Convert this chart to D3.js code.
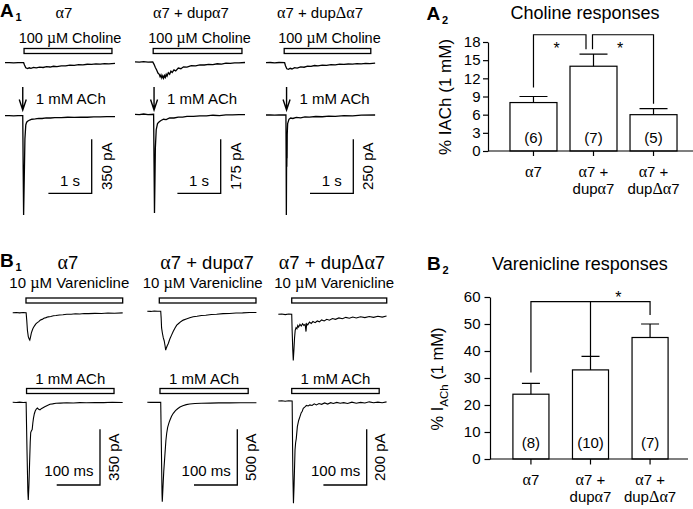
<!DOCTYPE html>
<html><head><meta charset="utf-8">
<script src="https://cdn.jsdelivr.net/npm/d3@7"></script>
<style>
body{margin:0;background:#fff;}
svg text{font-family:"Liberation Sans",Arial,sans-serif;fill:#000;}
</style></head><body>
<script>
// ---------------- DATA ----------------
const groups = ["α7", "α7 + dupα7", "α7 + dupΔα7"];
const groupLabelLines = [["α7"], ["α7 +", "dupα7"], ["α7 +", "dupΔα7"]];

// A2 choline responses (% of 1 mM ACh)
const cholineMean = [8, 14, 6];
const cholineSEM = [1, 2, 1];
const cholineN = ["(6)", "(7)", "(5)"];
const cholineTicks = [0, 3, 6, 9, 12, 15, 18];
const cholineBrackets = [
  {from: 0, to: 1, top: 19.2, legs: [10.5, 16.8]},
  {from: 1, to: 2, top: 19.2, legs: [16.8, 7.8]}
];

// B2 varenicline responses
const vareMean = [24, 33, 45];
const vareSEM = [4, 5, 5];
const vareN = ["(8)", "(10)", "(7)"];
const vareTicks = [0, 10, 20, 30, 40, 50, 60];
const vareBracket = {top: 58.3, legs: [32, 38, 53.3]};

// A1 traces: [time (s), current (pA)]
const a1ScalePA = [350, 175, 250];
const a1ScaleS = 1;
const a1CholineWindow = [[0.44, 2.47], [0.42, 2.47], [0.42, 2.42]];
const a1AChOnset = [0.41, 0.44, 0.475];
const a1Choline1 = [[0,0],[0.1,1],[0.2,-1],[0.3,1],[0.43,0],[0.45,-15],[0.48,-33],[0.52,-38],[0.56,-33],[0.6,-37],[0.66,-31],[0.72,-34],[0.8,-29],[0.88,-31],[0.96,-26],[1.04,-28],[1.12,-23],[1.2,-25],[1.3,-20],[1.4,-21],[1.5,-16],[1.6,-17],[1.7,-13],[1.8,-14],[1.9,-10],[2.0,-11],[2.1,-8],[2.2,-9],[2.3,-6],[2.4,-7],[2.54,-4]];
const a1Choline2 = [[0,0],[0.1,-1],[0.2,1],[0.3,-1],[0.41,0],[0.44,-8],[0.47,-18],[0.5,-26],[0.53,-36],[0.56,-40],[0.58,-48],[0.6,-42],[0.62,-52],[0.64,-45],[0.66,-53],[0.68,-44],[0.7,-50],[0.72,-40],[0.74,-46],[0.77,-35],[0.8,-40],[0.83,-30],[0.86,-34],[0.9,-26],[0.94,-29],[1.0,-20],[1.06,-22],[1.12,-16],[1.2,-17],[1.3,-12],[1.4,-13],[1.5,-10],[1.6,-10],[1.7,-8],[1.8,-9],[1.9,-6],[2.0,-7],[2.1,-4],[2.2,-5],[2.3,-3],[2.4,-3],[2.54,-2]];
const a1Choline3 = [[0,0],[0.1,1],[0.2,-1],[0.3,1],[0.43,0],[0.45,-14],[0.48,-28],[0.52,-31],[0.56,-26],[0.6,-29],[0.66,-23],[0.72,-25],[0.8,-19],[0.88,-21],[0.96,-16],[1.04,-17],[1.12,-13],[1.2,-15],[1.3,-11],[1.4,-12],[1.5,-9],[1.6,-10],[1.7,-7],[1.8,-8],[1.9,-6],[2.0,-7],[2.1,-4],[2.2,-5],[2.3,-3],[2.4,-4],[2.52,-2]];
const a1ACh1 = [[0,0],[0.1,1],[0.2,-1],[0.3,1],[0.41,0],[0.42,-350],[0.43,-644],[0.445,-400],[0.46,-150],[0.48,-60],[0.5,-42],[0.53,-34],[0.57,-28],[0.62,-23],[0.7,-21],[0.78,-17],[0.86,-18],[0.95,-14],[1.05,-15],[1.15,-12],[1.3,-13],[1.45,-10],[1.6,-11],[1.75,-9],[1.9,-10],[2.05,-7],[2.2,-8],[2.35,-6],[2.54,-6]];
const a1ACh2 = [[0,0],[0.1,-1],[0.2,1],[0.3,-1],[0.43,0],[0.44,-160],[0.45,-320],[0.46,-220],[0.47,-110],[0.49,-50],[0.52,-30],[0.56,-24],[0.6,-20],[0.66,-16],[0.72,-17],[0.8,-12],[0.9,-12],[1.0,-9],[1.1,-9],[1.2,-7],[1.35,-7],[1.5,-5],[1.65,-5],[1.8,-3],[1.95,-4],[2.1,-2],[2.25,-2],[2.4,-1],[2.54,-1]];
const a1ACh3 = [[0,0],[0.1,1],[0.2,-1],[0.3,1],[0.46,0],[0.465,-200],[0.47,-463],[0.475,-230],[0.478,-170],[0.481,-240],[0.484,-160],[0.487,-200],[0.49,-90],[0.5,-40],[0.53,-20],[0.57,-14],[0.62,-16],[0.7,-11],[0.8,-13],[0.9,-9],[1.0,-10],[1.15,-7],[1.3,-8],[1.45,-5],[1.6,-6],[1.8,-3],[2.0,-4],[2.2,-1],[2.52,0]];

// B1 traces: [time (ms), current (pA)]
const b1ScalePA = [350, 500, 200];
const b1ScaleMs = 100;
const b1VareWindow = [[30.7, 254], [27.7, 251], [31, 250.4]];
const b1AChWindow = [[32, 234], [29.3, 233], [31, 233]];
const b1Vare1 = [[0,0],[8,1],[16,-1],[24,1],[31,0],[32.5,-50],[34,-110],[36,-150],[38,-165],[39.5,-172],[41,-155],[43,-128],[45,-112],[47,-98],[50,-84],[53,-72],[56,-64],[60,-56],[64,-46],[68,-42],[72,-35],[77,-31],[82,-26],[88,-24],[94,-19],[100,-18],[108,-14],[116,-13],[125,-10],[135,-10],[145,-7],[155,-8],[165,-5],[175,-6],[190,-4],[205,-5],[220,-2],[235,-3],[254,-1]];
const b1Vare2 = [[0,0],[8,-2],[16,2],[24,-1],[31,0],[32,-60],[33,-150],[35,-200],[37,-240],[39,-265],[41,-310],[42.5,-350],[44,-330],[46,-310],[48.5,-290],[52,-250],[56,-215],[60,-180],[64,-150],[68,-125],[73,-108],[78,-92],[83,-80],[90,-70],[98,-58],[106,-50],[115,-45],[125,-38],[135,-36],[148,-30],[160,-28],[175,-22],[190,-21],[205,-16],[220,-15],[236,-12],[252,-11]];
const b1Vare3 = [[0,0],[8,1],[16,-1],[24,1],[31,0],[32,-60],[33.5,-130],[34.6,-166],[36,-130],[37.5,-85],[39,-58],[41,-48],[43,-52],[45,-40],[47,-46],[50,-36],[53,-42],[56,-34],[59,-40],[62,-36],[64,-62],[65.5,-34],[68,-38],[72,-28],[76,-33],[80,-26],[85,-30],[90,-24],[95,-27],[100,-20],[106,-24],[112,-18],[118,-21],[125,-15],[132,-18],[140,-13],[148,-16],[156,-11],[164,-14],[172,-10],[180,-13],[190,-9],[200,-12],[210,-8],[220,-11],[230,-7],[240,-10],[250,-6]];
const b1ACh1 = [[0,0],[8,-1],[16,1],[24,-1],[31,0],[33,-300],[35,-560],[36,-614],[37.5,-520],[39,-380],[40.5,-250],[41.6,-190],[43,-180],[45,-172],[46.5,-130],[48,-100],[50,-72],[52,-55],[54.5,-42],[57,-36],[60,-44],[63,-48],[66,-40],[70,-34],[74,-28],[80,-20],[86,-12],[92,-10],[100,-6],[110,-5],[125,-3],[140,-4],[155,-2],[170,-3],[190,-1],[210,-2],[230,0],[254,-1]];
const b1ACh2 = [[0,0],[8,-1],[16,1],[24,-1],[31,0],[32.5,-400],[34,-820],[34.6,-893],[36,-780],[38,-620],[40.9,-458],[43,-340],[44.8,-278],[47,-225],[50,-185],[52.4,-159],[56,-125],[60,-99],[65,-75],[70,-58],[75.5,-42],[82,-30],[90,-21],[98,-15],[110,-11],[125,-8],[145,-7],[165,-5],[190,-5],[215,-4],[235,-4],[252,-4]];
const b1ACh3 = [[0,0],[8,1],[16,-1],[24,1],[32,0],[33.5,-250],[35,-367],[36.5,-300],[38.6,-176],[40,-150],[41.5,-135],[44,-92],[47,-70],[50,-56],[53,-42],[55,-38],[57.7,-26],[61,-22],[65,-16],[69,-18],[73,-14],[78,-16],[83,-10],[88,-14],[94,-9],[100,-12],[107,-7],[114,-11],[121,-6],[127,-9],[135,-5],[143,-8],[151,-6],[160,-9],[170,-4],[180,-8],[190,-5],[200,-7],[210,-3],[220,-6],[230,-4],[240,-6],[250,-3]];

// ---------------- LAYOUT ----------------
const W = 693, H = 509;
const svg = d3.select("body").append("svg").attr("width", W).attr("height", H);

function rich(sel, str) {
  const parts = str.split(/([αΔµ])/).filter(s => s.length);
  parts.forEach(p => {
    const t = sel.append("tspan").text(p);
    if (/[αΔµ]/.test(p)) t.style("font-family", '"Liberation Serif","Times New Roman",serif').attr("font-size", "1.08em");
  });
  return sel;
}
function label(x, y, str, size, anchor) {
  const t = svg.append("text").attr("x", x).attr("y", y).attr("font-size", size).attr("text-anchor", anchor || "middle");
  rich(t, str);
  return t;
}
function panelLabel(x, y, letter, sub) {
  svg.append("text").attr("x", x).attr("y", y).attr("font-size", 19).attr("font-weight", "bold").text(letter);
  svg.append("text").attr("x", x + 15.5).attr("y", y + 4).attr("font-size", 11).attr("font-weight", "bold").text(sub);
}
const line = (xs, ys) => d3.line().x(d => xs(d[0])).y(d => ys(d[1]));

// ---------- A1 ----------
panelLabel(0, 17, "A", "1");
const a1X0 = [5, 135, 266], a1TitleX = [64, 191, 320];
const a1PxPerS = 43.3, a1BarPx = 54;
const a1CholBase = [62.7, 61.9, 62.7], a1AChBase = [115.7, 114.3, 115];
const a1Corner = [[91.7, 193.3], [220.7, 193.3], [353.3, 193.3]];
const a1Chol = [a1Choline1, a1Choline2, a1Choline3], a1ACh = [a1ACh1, a1ACh2, a1ACh3];
groups.forEach((g, i) => {
  label(a1TitleX[i], 18, g, 15);
  const xs = d3.scaleLinear().domain([0, 1]).range([a1X0[i], a1X0[i] + a1PxPerS]);
  const pxPerPA = a1BarPx / a1ScalePA[i];
  const ysC = d3.scaleLinear().domain([0, -1]).range([a1CholBase[i], a1CholBase[i] + pxPerPA]);
  const ysA = d3.scaleLinear().domain([0, -1]).range([a1AChBase[i], a1AChBase[i] + pxPerPA]);
  const w = a1CholineWindow[i];
  svg.append("rect").attr("x", xs(w[0])).attr("y", 48.5).attr("width", xs(w[1]) - xs(w[0])).attr("height", 5)
    .attr("fill", "#fff").attr("stroke", "#000").attr("stroke-width", 1.3);
  label((xs(w[0]) + xs(w[1])) / 2 + 2, 43, "100 µM Choline", 14.5);
  svg.append("path").attr("d", line(xs, ysC)(a1Chol[i])).attr("fill", "none").attr("stroke", "#000").attr("stroke-width", 1.3);
  svg.append("path").attr("d", line(xs, ysA)(a1ACh[i])).attr("fill", "none").attr("stroke", "#000").attr("stroke-width", 1.3);
  // arrow
  const ax = xs(a1AChOnset[i]);
  svg.append("path").attr("d", `M${ax},87V110M${ax - 3.5},99.5L${ax},110L${ax + 3.5},99.5`)
    .attr("fill", "none").attr("stroke", "#000").attr("stroke-width", 1.4);
  label(ax + 13, 104, "1 mM ACh", 15, "start");
  // scale bars
  const [cx, cy] = a1Corner[i];
  const sLen = xs(a1ScaleS) - xs(0), pLen = ysA(-a1ScalePA[i]) - ysA(0);
  svg.append("path").attr("d", `M${cx - sLen},${cy}H${cx}V${cy - pLen}`).attr("fill", "none").attr("stroke", "#000").attr("stroke-width", 1.3);
  label(cx - sLen / 2, cy - 7.5, "1 s", 15);
  svg.append("text").attr("transform", `translate(${cx + 20},${cy - pLen / 2}) rotate(-90)`)
    .attr("text-anchor", "middle").attr("font-size", 15).text(a1ScalePA[i] + " pA");
});

// ---------- B1 ----------
panelLabel(0, 267, "B", "1");
const b1X0 = [12.7, 147.3, 278.3], b1TitleX = [68, 207, 332];
const b1PxPerMs = 0.433, b1BarPx = 55.7;
const b1VareBase = [312.7, 311.2, 314.3], b1AChBase = [402.3, 402.3, 401];
const b1Corner = [[100, 485], [237.3, 485], [366.7, 485]];
const b1Vare = [b1Vare1, b1Vare2, b1Vare3], b1ACh = [b1ACh1, b1ACh2, b1ACh3];
groups.forEach((g, i) => {
  label(b1TitleX[i], 269, g, 18.5);
  const xs = d3.scaleLinear().domain([0, 1]).range([b1X0[i], b1X0[i] + b1PxPerMs]);
  const pxPerPA = b1BarPx / b1ScalePA[i];
  const ysV = d3.scaleLinear().domain([0, -1]).range([b1VareBase[i], b1VareBase[i] + pxPerPA]);
  const ysA = d3.scaleLinear().domain([0, -1]).range([b1AChBase[i], b1AChBase[i] + pxPerPA]);
  const wv = b1VareWindow[i], wa = b1AChWindow[i];
  svg.append("rect").attr("x", xs(wv[0])).attr("y", 298).attr("width", xs(wv[1]) - xs(wv[0])).attr("height", 5)
    .attr("fill", "#fff").attr("stroke", "#000").attr("stroke-width", 1.3);
  label((xs(wv[0]) + xs(wv[1])) / 2 - 5, 288, "10 µM Varenicline", 15);
  svg.append("rect").attr("x", xs(wa[0])).attr("y", 388.5).attr("width", xs(wa[1]) - xs(wa[0])).attr("height", 5)
    .attr("fill", "#fff").attr("stroke", "#000").attr("stroke-width", 1.3);
  label((xs(wa[0]) + xs(wa[1])) / 2, 383.5, "1 mM ACh", 15);
  svg.append("path").attr("d", line(xs, ysV)(b1Vare[i])).attr("fill", "none").attr("stroke", "#000").attr("stroke-width", 1.1);
  svg.append("path").attr("d", line(xs, ysA)(b1ACh[i])).attr("fill", "none").attr("stroke", "#000").attr("stroke-width", 1.1);
  const [cx, cy] = b1Corner[i];
  const sLen = xs(b1ScaleMs) - xs(0), pLen = ysA(-b1ScalePA[i]) - ysA(0);
  svg.append("path").attr("d", `M${cx - sLen},${cy}H${cx}V${cy - pLen}`).attr("fill", "none").attr("stroke", "#000").attr("stroke-width", 1.3);
  label(cx - 6.5, cy - 9, "100 ms", 15, "end");
  svg.append("text").attr("transform", `translate(${cx + 18.5},${cy - pLen / 2}) rotate(-90)`)
    .attr("text-anchor", "middle").attr("font-size", 15).text(b1ScalePA[i] + " pA");
});

// ---------- Bar charts ----------
function barChart(o) {
  const y = d3.scaleLinear().domain([0, o.ticks[o.ticks.length - 1]]).range(o.yRange);
  const x = d3.scaleBand().domain(groups).range(o.xRange).paddingInner(o.pi).paddingOuter(o.po);
  const g = svg.append("g");
  g.selectAll("rect.bar").data(o.mean).join("rect")
    .attr("x", (d, i) => x(groups[i])).attr("y", d => y(d))
    .attr("width", x.bandwidth()).attr("height", d => y(0) - y(d))
    .attr("fill", "#fff").attr("stroke", "#000").attr("stroke-width", 1.2);
  o.mean.forEach((m, i) => {
    const cx = x(groups[i]) + x.bandwidth() / 2;
    g.append("path").attr("d", `M${cx},${y(m)}V${y(m + o.sem[i])}M${cx - o.cap / 2},${y(m + o.sem[i])}H${cx + o.cap / 2}`)
      .attr("fill", "none").attr("stroke", "#000").attr("stroke-width", 1.2);
    g.append("text").attr("x", cx).attr("y", o.nY).attr("text-anchor", "middle").attr("font-size", 15).text(o.n[i]);
    groupLabelLines[i].forEach((ln, k) => {
      const t = g.append("text").attr("x", cx).attr("y", o.catY[k]).attr("text-anchor", "middle").attr("font-size", 15);
      rich(t, ln);
    });
  });
  const ya = g.append("g").attr("transform", `translate(${o.axisX},0)`)
    .call(d3.axisLeft(y).tickValues(o.ticks).tickSize(o.tickLen).tickSizeOuter(0).tickPadding(o.tickPad));
  ya.selectAll("text").attr("font-size", 15).style("font-family", '"Liberation Sans",Arial,sans-serif');
  ya.selectAll("path,line").attr("stroke", "#000").attr("stroke-width", 1.2);
  g.append("line").attr("x1", o.axisX).attr("x2", o.xEnd).attr("y1", y(0)).attr("y2", y(0)).attr("stroke", "#000").attr("stroke-width", 1.2);
  const xa = g.append("g").attr("transform", `translate(0,${y(0)})`)
    .call(d3.axisBottom(x).tickSize(o.tickLen).tickFormat(""));
  xa.select(".domain").remove();
  xa.selectAll("line").attr("stroke", "#000").attr("stroke-width", 1.2);
  return {x, y, g};
}

// A2
panelLabel(426.5, 19.5, "A", "2");
svg.append("text").attr("x", 585).attr("y", 18.5).attr("text-anchor", "middle").attr("font-size", 18).text("Choline responses");
const A2 = barChart({mean: cholineMean, sem: cholineSEM, n: cholineN, ticks: cholineTicks,
  yRange: [151, 42], xRange: [503.5, 683.5], pi: 0.217, po: 0.108, cap: 28, nY: 143, catY: [177, 194],
  axisX: 488, xEnd: 693, tickLen: 5, tickPad: 2.5});
svg.append("text").attr("transform", "translate(451,97) rotate(-90)").attr("text-anchor", "middle").attr("font-size", 17)
  .text("% IACh (1 mM)");
{
  const cx = i => A2.x(groups[i]) + A2.x.bandwidth() / 2;
  const offs = [[0, -7.5], [-1, 0]];
  cholineBrackets.forEach((b, k) => {
    const x1 = cx(b.from) + offs[k][0], x2 = cx(b.to) + offs[k][1];
    const yt = A2.y(b.top);
    svg.append("path").attr("d", `M${x1},${A2.y(b.legs[0])}V${yt}H${x2}V${A2.y(b.legs[1])}`)
      .attr("fill", "none").attr("stroke", "#000").attr("stroke-width", 1.2);
    svg.append("text").attr("x", (x1 + x2) / 2 - 3).attr("y", yt + 19).attr("text-anchor", "middle").attr("font-size", 16).text("*");
  });
}

// B2
panelLabel(427, 270, "B", "2");
svg.append("text").attr("x", 580).attr("y", 270).attr("text-anchor", "middle").attr("font-size", 18).text("Varenicline responses");
const B2 = barChart({mean: vareMean, sem: vareSEM, n: vareN, ticks: vareTicks,
  yRange: [459, 297], xRange: [501, 680], pi: 0.395, po: 0.2, cap: 18, nY: 448, catY: [485, 501.5],
  axisX: 490, xEnd: 688, tickLen: 5.5, tickPad: 4});
{
  const t = svg.append("text").attr("transform", "translate(443,379) rotate(-90)").attr("text-anchor", "middle").attr("font-size", 16.5);
  t.append("tspan").text("% I");
  t.append("tspan").attr("font-size", 11.5).attr("dy", 4.5).text("ACh");
  t.append("tspan").attr("dy", -4.5).text(" (1 mM)");
  const cx = i => B2.x(groups[i]) + B2.x.bandwidth() / 2;
  const yt = B2.y(vareBracket.top);
  svg.append("path").attr("d", `M${cx(0)},${B2.y(vareBracket.legs[0])}V${yt}H${cx(2)}V${B2.y(vareBracket.legs[2])}M${cx(1)},${yt}V${B2.y(vareBracket.legs[1])}`)
    .attr("fill", "none").attr("stroke", "#000").attr("stroke-width", 1.2);
  svg.append("text").attr("x", (cx(1) + cx(2)) / 2 - 2).attr("y", yt + 1).attr("text-anchor", "middle").attr("font-size", 16).text("*");
}
</script></body></html>
